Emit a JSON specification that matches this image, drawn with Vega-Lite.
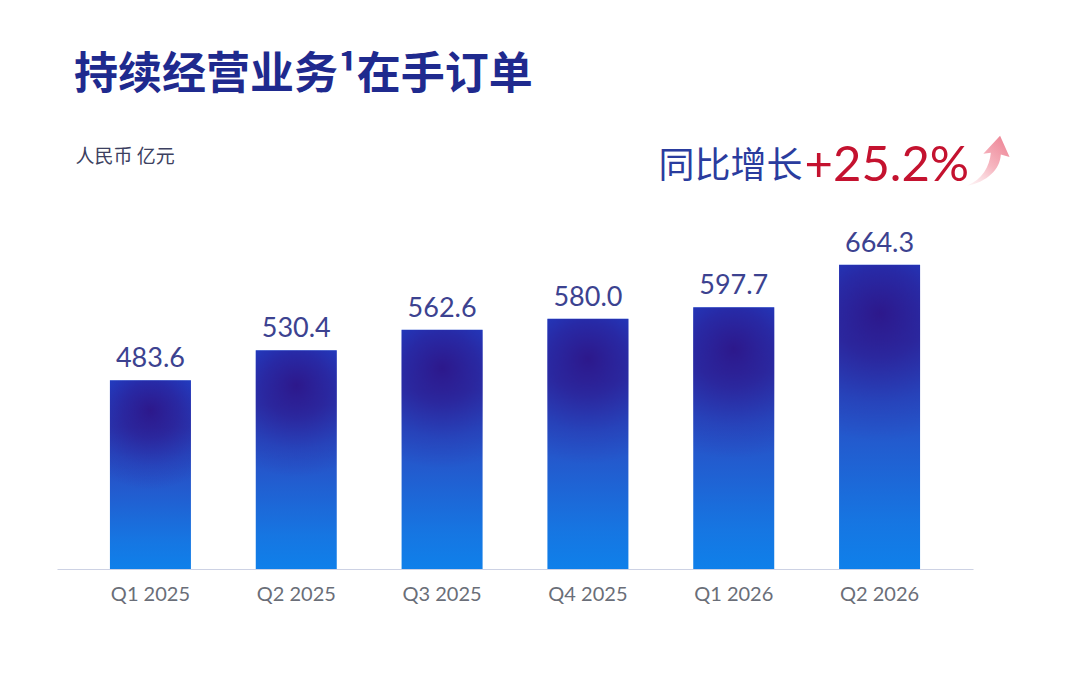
{
  "$schema": "https://vega.github.io/schema/vega-lite/v6.json",
  "description": "Order backlog of continuing operations, RMB 100 million, Q1 2025 to Q2 2026.",
  "width": 916,
  "height": 369,
  "autosize": "none",
  "padding": {"left": 57, "top": 200, "right": 107, "bottom": 125},
  "background": "white",
  "title": {
    "text": "持续经营业务¹在手订单",
    "anchor": "start",
    "frame": "group",
    "dx": 17,
    "offset": 38,
    "font": "Noto Sans CJK SC",
    "fontSize": 44,
    "fontWeight": "bold",
    "color": "#1f2a8e"
  },
  "config": {"view": {"stroke": null}},
  "data": {
    "values": [
      {"q": "Q1 2025", "v": 483.6},
      {"q": "Q2 2025", "v": 530.4},
      {"q": "Q3 2025", "v": 562.6},
      {"q": "Q4 2025", "v": 580.0},
      {"q": "Q1 2026", "v": 597.7},
      {"q": "Q2 2026", "v": 664.3}
    ]
  },
  "encoding": {
    "x": {
      "field": "q",
      "type": "nominal",
      "sort": null,
      "scale": {"paddingInner": 0.4446, "paddingOuter": 0.363},
      "axis": {
        "title": null,
        "labelAngle": 0,
        "labelFont": "Lato",
        "labelFontSize": 20,
        "labelColor": "#6a6e78",
        "labelBaseline": "alphabetic",
        "labelPadding": 31,
        "ticks": false,
        "tickSize": 0,
        "domainColor": "#cdd2e4",
        "domainWidth": 1.2,
        "grid": false
      }
    }
  },
  "layer": [
    {
      "mark": {
        "type": "bar",
        "fill": {
          "gradient": "linear",
          "x1": 0, "y1": 0, "x2": 0, "y2": 1,
          "stops": [
            {"offset": 0, "color": "#1c4ad2"},
            {"offset": 0.25, "color": "#2640b8"},
            {"offset": 0.55, "color": "#2458cc"},
            {"offset": 0.85, "color": "#1676e2"},
            {"offset": 1, "color": "#0f80ea"}
          ]
        }
      },
      "encoding": {
        "y": {
          "field": "v",
          "type": "quantitative",
          "scale": {"domain": [188.3, 765.6], "zero": false, "nice": false},
          "axis": {
            "title": "人民币  亿元",
            "domain": false,
            "labels": false,
            "ticks": false,
            "grid": false,
            "titleAngle": 0,
            "titleX": 18,
            "titleY": -44,
            "titleAlign": "left",
            "titleBaseline": "middle",
            "titleFont": "Noto Sans CJK SC",
            "titleFontSize": 19,
            "titleFontWeight": "normal",
            "titleColor": "#3c4060"
          }
        },
        "y2": {"datum": 188.3}
      }
    },
    {
      "mark": {
        "type": "bar",
        "fill": {
          "gradient": "radial",
          "x1": 0.5, "y1": 0.16, "r1": 0,
          "x2": 0.5, "y2": 0.16, "r2": 0.42,
          "stops": [
            {"offset": 0, "color": "rgba(46,18,132,0.88)"},
            {"offset": 0.35, "color": "rgba(46,22,140,0.62)"},
            {"offset": 0.7, "color": "rgba(46,26,150,0.22)"},
            {"offset": 1, "color": "rgba(46,26,150,0)"}
          ]
        }
      },
      "encoding": {
        "y": {"field": "v", "type": "quantitative"},
        "y2": {"datum": 188.3}
      }
    },
    {
      "mark": {
        "type": "text",
        "baseline": "alphabetic",
        "dy": -13,
        "font": "Lato",
        "fontSize": 27,
        "color": "#3c4290"
      },
      "encoding": {
        "y": {"field": "v", "type": "quantitative"},
        "text": {"field": "v", "type": "quantitative", "format": ".1f"}
      }
    },
    {
      "data": {"values": [{"q": "Q2 2026", "y": 800, "t": "同比增长"}]},
      "mark": {
        "type": "text",
        "align": "right",
        "baseline": "alphabetic",
        "dx": -77,
        "font": "Noto Sans CJK SC",
        "fontSize": 36,
        "color": "#2a3c9e"
      },
      "encoding": {
        "y": {"field": "y", "type": "quantitative"},
        "text": {"field": "t"}
      }
    },
    {
      "data": {"values": [{"q": "Q2 2026", "y": 796, "t": "+25.2%"}]},
      "mark": {
        "type": "text",
        "align": "left",
        "baseline": "alphabetic",
        "dx": -75,
        "font": "Lato",
        "fontSize": 49,
        "color": "#c4122f"
      },
      "encoding": {
        "y": {"field": "y", "type": "quantitative"},
        "text": {"field": "t"}
      }
    },
    {
      "data": {"values": [{"q": "Q2 2026", "y": 827}]},
      "mark": {
        "type": "point",
        "filled": true,
        "opacity": 1,
        "size": 2500,
        "xOffset": 110,
        "strokeWidth": 0,
        "shape": "M -0.9 1 C -0.3 0.75 0.0 0.25 0.05 -0.32 L -0.25 -0.28 L 0.42 -1 L 0.8 -0.15 L 0.45 -0.25 C 0.42 0.35 -0.1 0.85 -0.9 1 Z",
        "fill": {
          "gradient": "linear",
          "x1": 0, "y1": 1, "x2": 0.8, "y2": 0,
          "stops": [
            {"offset": 0, "color": "rgba(250,215,220,0.25)"},
            {"offset": 0.5, "color": "#f6b8c2"},
            {"offset": 1, "color": "#ee8898"}
          ]
        }
      },
      "encoding": {
        "y": {"field": "y", "type": "quantitative"}
      }
    }
  ]
}
